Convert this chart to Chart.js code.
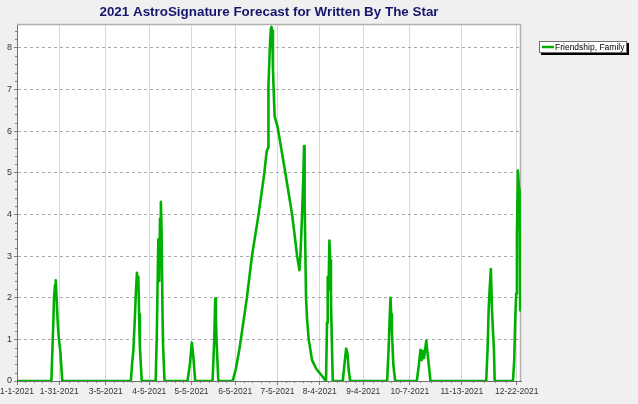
<!DOCTYPE html>
<html>
<head>
<meta charset="utf-8">
<script src="https://cdn.jsdelivr.net/npm/chart.js@4/dist/chart.umd.min.js"></script>
<style>
html,body{margin:0;padding:0;background:#f0f0f0;}
#wrap{width:638px;height:404px;position:relative;}
</style>
</head>
<body>
<div id="wrap"><canvas id="c" width="638" height="404"></canvas></div>
<script>
// ---- data (x = day of year 2021, 0 = Jan 1) ----
const chartTitle = "2021 AstroSignature Forecast for Written By The Star";
const seriesName = "Friendship, Family";
const days = [
  0, 24.4, 25.1, 25.8, 26.3, 27.0, 27.5, 28.0, 28.7, 29.4, 30.1, 30.8, 32.2,
  80.9, 81.7, 82.7, 83.7, 84.4, 85.2, 85.7, 86.2, 86.7, 87.3, 88.6,
  98.5, 99.3, 99.9, 100.4, 101.0, 101.6, 102.2, 102.7, 103.4, 103.8, 104.8,
  121.1, 122.8, 124.2, 125.2, 126.6,
  138.9, 140.1, 140.8, 141.3, 141.7, 143.0,
  153.2, 155.5, 157.9, 160.3, 163.3, 166.9, 171.6, 175.7, 177.3, 178.3, 178.6, 179.6, 180.3, 180.8, 181.3, 181.8, 182.3, 183.0,
  185.1, 190.6, 195.4, 199.0, 200.6, 201.3, 202.5, 203.3, 203.9, 204.3, 205.3, 206.0, 207.2, 209.6, 212.4, 216.0, 218.4, 219.0,
  219.5, 220.2, 220.7, 221.3, 221.9, 222.5, 223.0, 223.6, 224.3,
  231.4, 232.6, 233.8, 234.8, 235.5, 236.6,
  262.9, 264.0, 264.7, 265.3, 265.8, 266.3, 267.3, 268.6,
  284.0, 285.5, 286.6, 287.5, 288.3, 289.1, 290.7, 291.5, 293.7,
  333.3, 334.3, 335.0, 335.7, 336.6, 337.4, 338.1, 338.8, 339.3,
  352.3, 353.2, 353.9, 354.6, 355.1, 355.8, 356.6, 357.0, 357.4, 358.0
];
const values = [
  0, 0, 0.7, 1.4, 2.0, 2.3, 2.42, 2.1, 1.55, 1.15, 0.9, 0.7, 0,
  0, 0.4, 0.75, 1.5, 2.1, 2.6, 2.2, 2.5, 1.6, 0.8, 0,
  0, 1.1, 2.4, 3.4, 2.4, 3.9, 4.3, 3.6, 1.5, 0.8, 0,
  0, 0.4, 0.92, 0.6, 0,
  0, 1.0, 1.98, 1.5, 1.0, 0,
  0, 0.3, 0.75, 1.3, 2.0, 3.0, 4.0, 5.0, 5.5, 5.6, 7.1, 8.0, 8.45, 8.5, 8.4, 7.5, 7.0, 6.35,
  6.1, 5.0, 4.0, 3.0, 2.66, 3.0, 4.0, 4.8, 5.64, 4.3, 2.0, 1.5, 1.0, 0.5, 0.3, 0.15, 0.05, 0,
  0, 1.4, 2.5, 2.2, 3.37, 2.9, 2.0, 1.0, 0,
  0, 0.4, 0.78, 0.65, 0.3, 0,
  0, 0.8, 1.5, 2.0, 1.6, 1.2, 0.4, 0,
  0, 0.4, 0.75, 0.5, 0.72, 0.55, 0.97, 0.7, 0,
  0, 0.8, 1.7, 2.18, 2.69, 1.7, 1.2, 0.74, 0,
  0, 0.5, 1.5, 2.1, 3.5, 5.05, 4.6, 4.0, 1.7, 1.7
];
const tickDays = [0, 30, 63, 94, 124, 155, 185, 215, 246, 279, 316, 355];
const tickLabels = ["1-1-2021","1-31-2021","3-5-2021","4-5-2021","5-5-2021","6-5-2021","7-5-2021","8-4-2021","9-4-2021","10-7-2021","11-13-2021","12-22-2021"];
const yTicks = [0, 1, 2, 3, 4, 5, 6, 7, 8];
const xMin = 0, xMax = 358, yMin = 0, yMax = 8.57;

const GREEN = '#00b000';
const FONT = "'Liberation Sans', Arial, sans-serif";

const bgPlugin = {
  id: 'bg',
  beforeDraw(chart) {
    const {ctx, chartArea: a} = chart;
    ctx.save();
    ctx.fillStyle = '#f0f0f0';
    ctx.fillRect(0, 0, chart.width, chart.height);
    ctx.fillStyle = '#ffffff';
    ctx.fillRect(a.left, a.top, a.right - a.left, a.bottom - a.top);
    ctx.restore();
  },
  beforeDatasetsDraw(chart) {
    const {ctx, chartArea: a, scales} = chart;
    ctx.save();
    // top & right frame
    ctx.strokeStyle = '#b0b0b0';
    ctx.lineWidth = 1.5;
    ctx.beginPath();
    ctx.moveTo(a.left, a.top + 0.5);
    ctx.lineTo(a.right - 0.5, a.top + 0.5);
    ctx.lineTo(a.right - 0.5, a.bottom);
    ctx.stroke();
    // minor ticks
    ctx.strokeStyle = '#808080';
    ctx.lineWidth = 1;
    ctx.beginPath();
    const ys = scales.y;
    for (let i = 0; i < yTicks.length; i++) {
      for (let k = 1; k < 5; k++) {
        const v = yTicks[i] + k * 0.2;
        if (v > yMax) break;
        const p = Math.round(ys.getPixelForValue(v)) + 0.5;
        ctx.moveTo(a.left - 2, p); ctx.lineTo(a.left, p);
      }
    }
    const xs = scales.x;
    for (let i = 0; i < tickDays.length - 1; i++) {
      const d0 = tickDays[i], d1 = tickDays[i + 1];
      for (let k = 1; k < 5; k++) {
        const v = d0 + (d1 - d0) * k / 5;
        const p = Math.round(xs.getPixelForValue(v)) + 0.5;
        ctx.moveTo(p, a.bottom); ctx.lineTo(p, a.bottom + 2);
      }
    }
    ctx.stroke();
    ctx.restore();
  },
  afterDraw(chart) {
    const {ctx, chartArea: a} = chart;
    ctx.save();
    // title
    ctx.fillStyle = '#16166e';
    ctx.font = "bold 13.4px " + FONT;
    ctx.textAlign = 'center';
    ctx.textBaseline = 'middle';
    ctx.fillText(chartTitle, (a.left + a.right) / 2, 12.5);
    // legend
    const lx = 539, ly = 41, lw = 88, lh = 12;
    ctx.fillStyle = '#000000';
    ctx.fillRect(lx + 2, ly + 2, lw, lh);
    ctx.fillStyle = '#ffffff';
    ctx.fillRect(lx, ly, lw, lh);
    ctx.strokeStyle = '#707070';
    ctx.lineWidth = 1;
    ctx.strokeRect(lx + 0.5, ly + 0.5, lw - 1, lh - 1);
    ctx.strokeStyle = GREEN;
    ctx.lineWidth = 2.5;
    ctx.beginPath();
    ctx.moveTo(lx + 3, ly + lh / 2); ctx.lineTo(lx + 15, ly + lh / 2);
    ctx.stroke();
    ctx.fillStyle = '#000000';
    ctx.font = "8.5px " + FONT;
    ctx.textAlign = 'left';
    ctx.textBaseline = 'middle';
    ctx.fillText(seriesName, lx + 16, ly + lh / 2 + 0.5);
    ctx.restore();
  }
};

const points = days.map((d, i) => ({x: d, y: values[i]}));

new Chart(document.getElementById('c'), {
  type: 'line',
  data: {
    datasets: [{
      label: seriesName,
      data: points,
      borderColor: GREEN,
      backgroundColor: GREEN,
      borderWidth: 2.6,
      pointRadius: 0,
      tension: 0,
      borderJoinStyle: 'round',
      fill: false
    }]
  },
  options: {
    responsive: false,
    animation: false,
    devicePixelRatio: 1,
    layout: {padding: {left: 0, top: 24, right: 117, bottom: 0}},
    plugins: {legend: {display: false}, title: {display: false}, tooltip: {enabled: false}},
    scales: {
      x: {
        type: 'linear',
        min: xMin, max: xMax,
        afterBuildTicks(s) { s.ticks = tickDays.map(v => ({value: v})); },
        afterFit(s) { s.height = 23; s.paddingLeft = 0; s.paddingRight = 0; },
        ticks: {
          autoSkip: false, maxRotation: 0, minRotation: 0,
          padding: 2,
          color: '#333333',
          font: {family: FONT, size: 8.5},
          callback: (v, i) => tickLabels[i]
        },
        grid: {
          color: (c) => (c.tick && c.tick.value === 0) ? 'rgba(0,0,0,0)' : '#d8d8d8',
          lineWidth: 1,
          tickLength: 4,
          tickColor: '#808080'
        },
        border: {display: true, color: '#707070', width: 1}
      },
      y: {
        type: 'linear',
        min: yMin, max: yMax,
        afterBuildTicks(s) { s.ticks = yTicks.map(v => ({value: v})); },
        afterFit(s) { s.width = 17; s.paddingTop = 0; s.paddingBottom = 0; },
        ticks: {
          padding: 2,
          color: '#333333',
          font: {family: FONT, size: 9},
          callback: (v) => String(v)
        },
        grid: {
          color: '#a8a8a8',
          lineWidth: 1,
          tickLength: 3,
          tickColor: '#808080'
        },
        border: {display: true, color: '#707070', width: 1, dash: [3, 3]}
      }
    }
  },
  plugins: [bgPlugin]
});
</script>
</body>
</html>
